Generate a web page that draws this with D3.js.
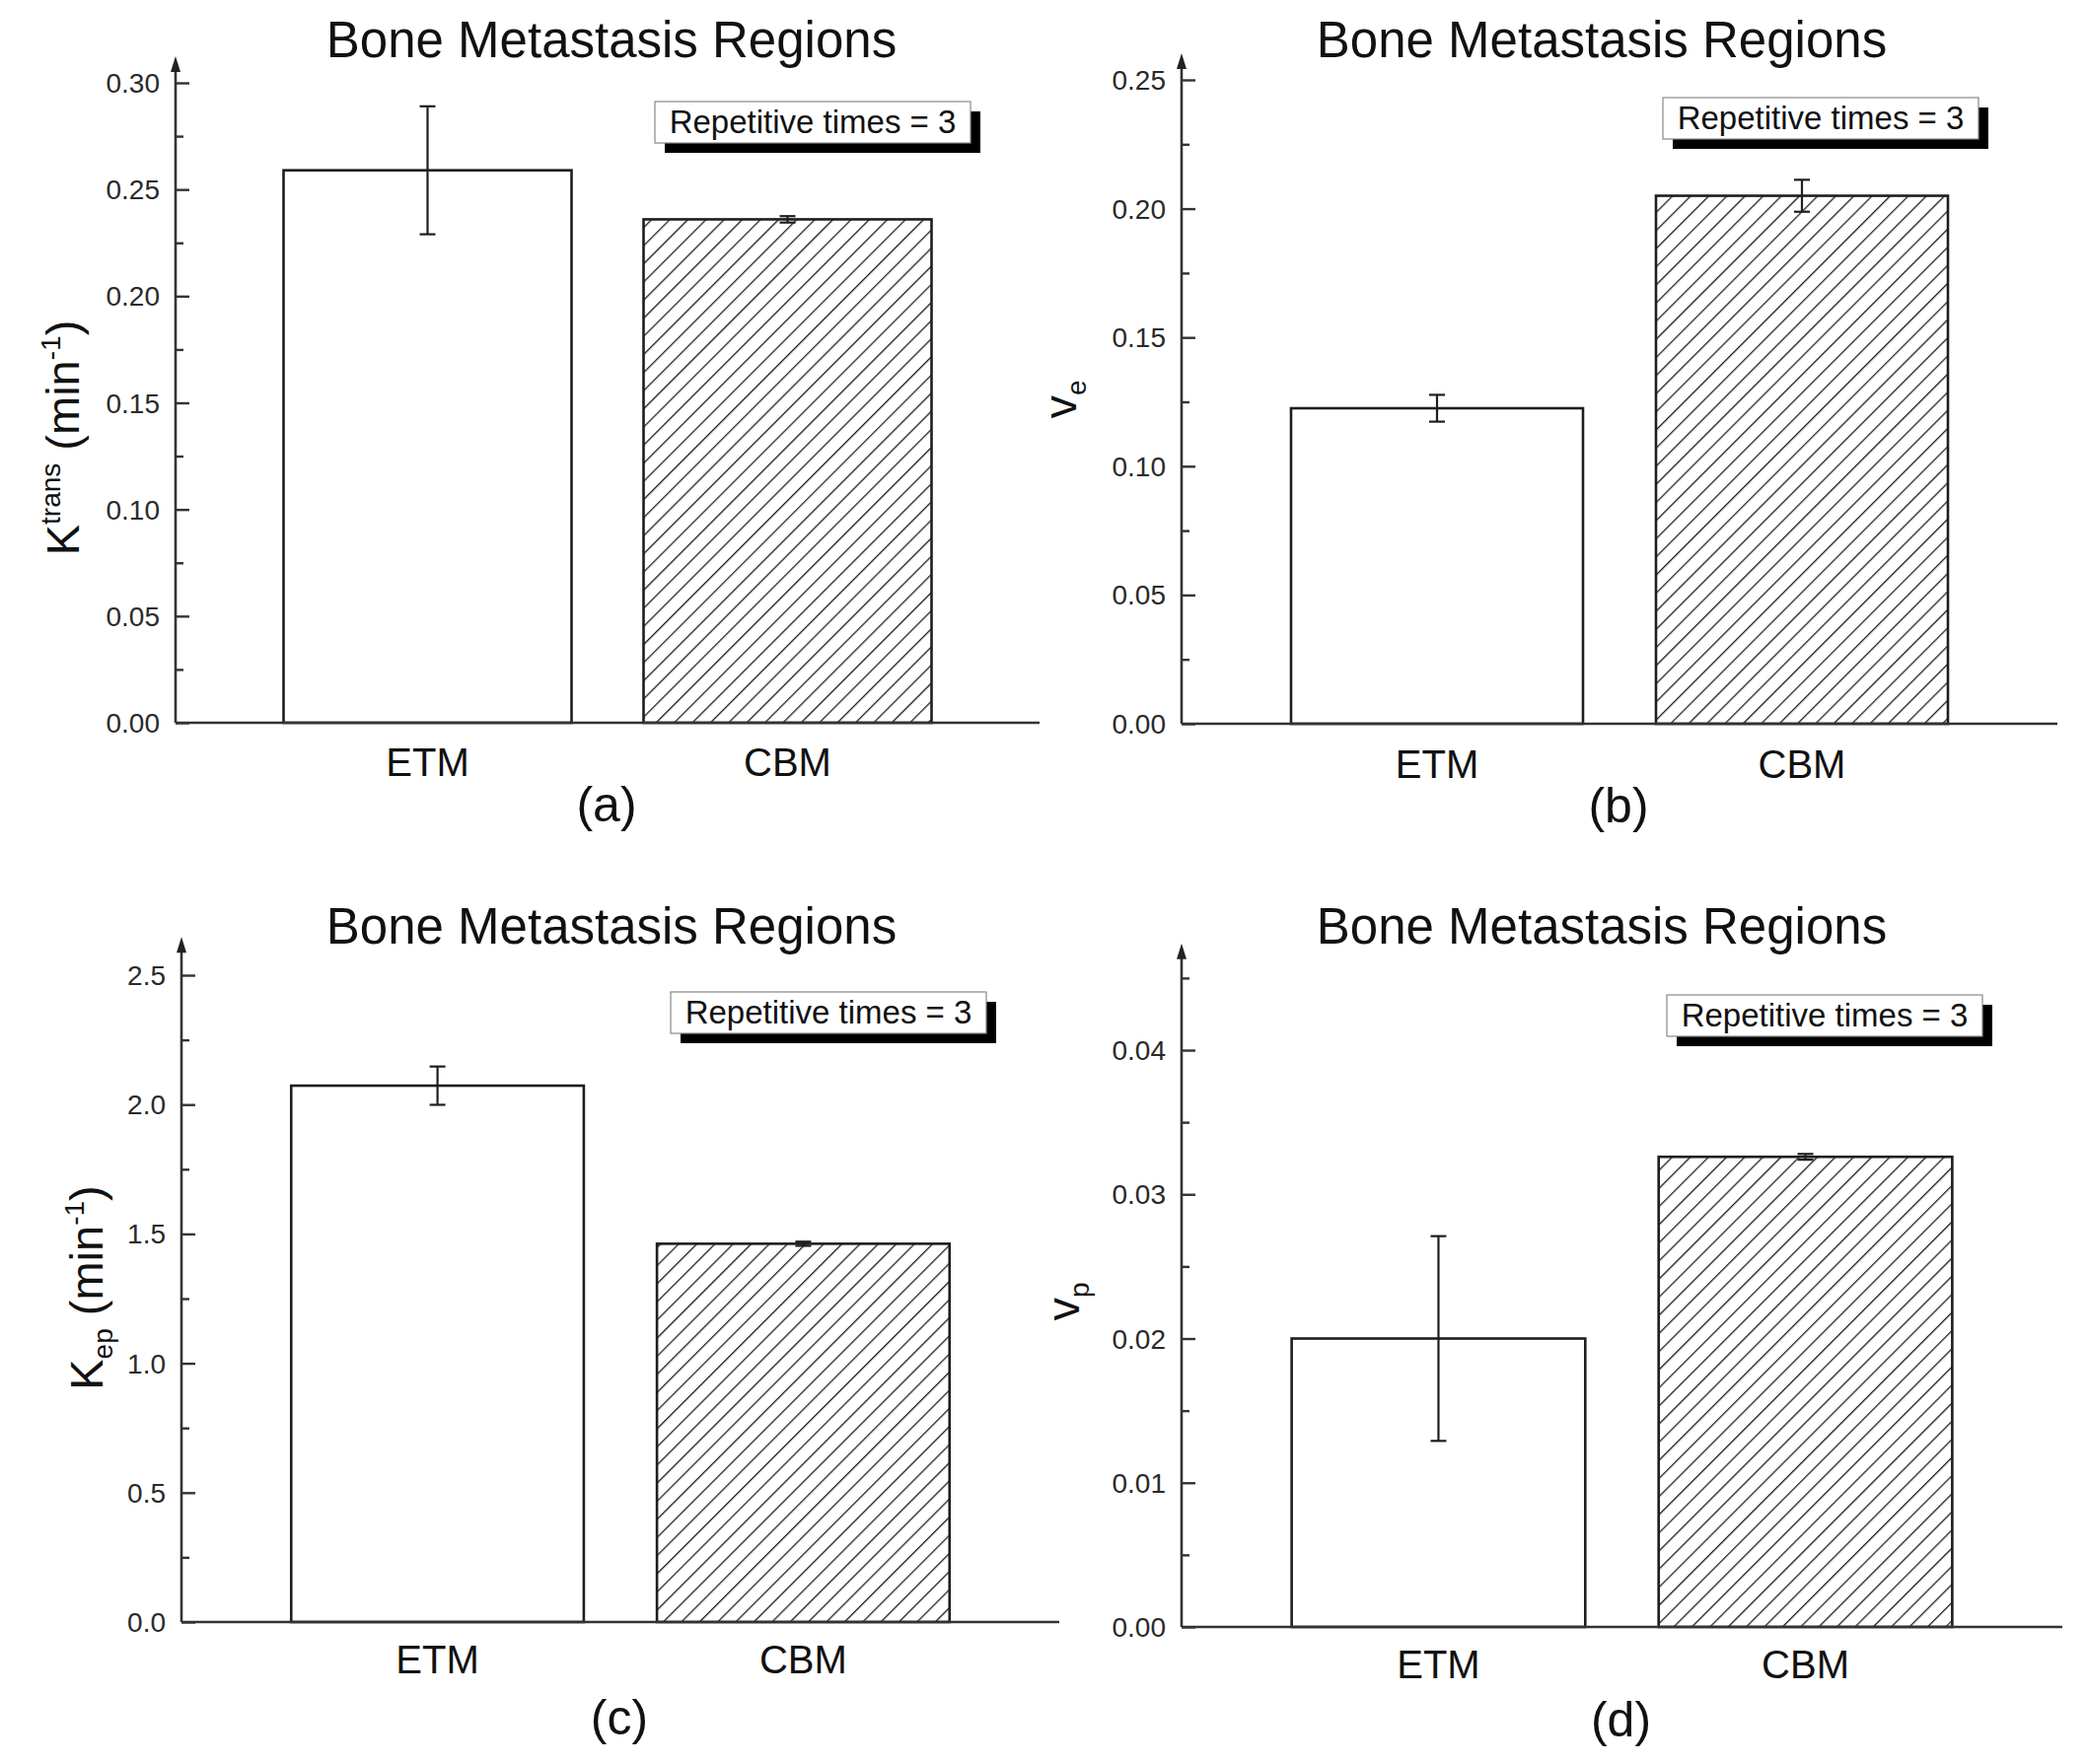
<!DOCTYPE html>
<html>
<head>
<meta charset="utf-8">
<script src="https://cdn.jsdelivr.net/npm/d3@7"></script>
<style>
  html, body { margin: 0; padding: 0; background: #fff; }
  svg { display: block; font-family: "Liberation Sans", Arial, Helvetica, sans-serif; }
</style>
</head>
<body>
<svg id="chart" width="2115" height="1789"></svg>
<script>
// ---------------- DATA ----------------
const categories = ["ETM", "CBM"];

const ktransMean = [0.259, 0.236];
const ktransErr  = [0.030, 0.0015];

const veMean = [0.1225, 0.2050];
const veErr  = [0.0052, 0.0062];

const kepMean = [2.073, 1.462];
const kepErr  = [0.074, 0.008];

const vpMean = [0.0200, 0.0326];
const vpErr  = [0.0071, 0.0002];

const ktransTicks = [0.00, 0.05, 0.10, 0.15, 0.20, 0.25, 0.30];
const veTicks     = [0.00, 0.05, 0.10, 0.15, 0.20, 0.25];
const kepTicks    = [0.0, 0.5, 1.0, 1.5, 2.0, 2.5];
const vpTicks     = [0.00, 0.01, 0.02, 0.03, 0.04];

const titleText  = "Bone Metastasis Regions";
const legendText = "Repetitive times = 3";
const panelTags  = ["(a)", "(b)", "(c)", "(d)"];

// ---------------- LAYOUT ----------------
const panels = [
  { means: ktransMean, errs: ktransErr, ticks: ktransTicks, fmt: ".2f", minor: 0.025, max: 0.3125,
    axisX: 178, axisEnd: 1054, y0: 733, topVal: 0.30, topPx: 84,
    titleX: 620, titleY: 58, legX: 664, legY: 103, ylabX: 80, ylabY: 444, catY: 787, tagY: 833,
    ylab: [{t: "K", s: 47}, {t: "trans", s: 28, dy: -19}, {t: " (min", s: 47, dy: 19}, {t: "-1", s: 28, dy: -19}, {t: ")", s: 47, dy: 19}] },
  { means: veMean, errs: veErr, ticks: veTicks, fmt: ".2f", minor: 0.025, max: 0.2603,
    axisX: 1198, axisEnd: 2086, y0: 734, topVal: 0.25, topPx: 81,
    titleX: 1624, titleY: 58, legX: 1686, legY: 99, ylabX: 1091, ylabY: 405, catY: 789, tagY: 834,
    ylab: [{t: "v", s: 47}, {t: "e", s: 28, dy: 10}] },
  { means: kepMean, errs: kepErr, ticks: kepTicks, fmt: ".1f", minor: 0.25, max: 2.648,
    axisX: 184, axisEnd: 1074, y0: 1645, topVal: 2.5, topPx: 989,
    titleX: 620, titleY: 957, legX: 680, legY: 1006, ylabX: 104, ylabY: 1306, catY: 1697, tagY: 1759,
    ylab: [{t: "K", s: 47}, {t: "ep", s: 28, dy: 10}, {t: " (min", s: 47, dy: -10}, {t: "-1", s: 28, dy: -19}, {t: ")", s: 47, dy: 19}] },
  { means: vpMean, errs: vpErr, ticks: vpTicks, fmt: ".2f", minor: 0.005, max: 0.0474,
    axisX: 1198, axisEnd: 2091, y0: 1650, topVal: 0.04, topPx: 1065,
    titleX: 1624, titleY: 957, legX: 1690, legY: 1009, ylabX: 1094, ylabY: 1320, catY: 1702, tagY: 1761,
    ylab: [{t: "v", s: 47}, {t: "p", s: 28, dy: 10}] }
];

const svg = d3.select("#chart");
svg.append("rect").attr("width", 2115).attr("height", 1789).attr("fill", "#fff");

// hatch pattern
const defs = svg.append("defs");
const hs = 13;
const pat = defs.append("pattern")
  .attr("id", "hatch").attr("patternUnits", "userSpaceOnUse")
  .attr("width", hs).attr("height", hs)
  .attr("patternTransform", "rotate(45)");
pat.append("rect").attr("width", hs).attr("height", hs).attr("fill", "#fff");
pat.append("line").attr("x1", 0).attr("y1", 0).attr("x2", 0).attr("y2", hs)
  .attr("stroke", "#1a1a1a").attr("stroke-width", 2.6);

const ink = "#1e1e1e";

panels.forEach((p, i) => {
  const g = svg.append("g");
  const x = d3.scaleBand().domain(categories).range([p.axisX, p.axisEnd])
    .paddingInner(0.2).paddingOuter(0.3);
  const y = d3.scaleLinear().domain([0, p.topVal]).range([p.y0, p.topPx]);

  // bars
  g.selectAll("rect.bar").data(categories).join("rect")
    .attr("class", "bar")
    .attr("x", d => x(d))
    .attr("width", x.bandwidth())
    .attr("y", (d, k) => y(p.means[k]))
    .attr("height", (d, k) => y(0) - y(p.means[k]))
    .attr("fill", (d, k) => k === 0 ? "#fff" : "url(#hatch)")
    .attr("stroke", ink).attr("stroke-width", 2.6);

  // error bars
  const eb = g.selectAll("g.err").data(categories).join("g").attr("class", "err");
  const cx = d => x(d) + x.bandwidth() / 2;
  eb.append("line")
    .attr("x1", cx).attr("x2", cx)
    .attr("y1", (d, k) => y(p.means[k] + p.errs[k]))
    .attr("y2", (d, k) => y(p.means[k] - p.errs[k]))
    .attr("stroke", ink).attr("stroke-width", 2.2);
  [1, -1].forEach(sg => {
    eb.append("line")
      .attr("x1", d => cx(d) - 8).attr("x2", d => cx(d) + 8)
      .attr("y1", (d, k) => y(p.means[k] + sg * p.errs[k]))
      .attr("y2", (d, k) => y(p.means[k] + sg * p.errs[k]))
      .attr("stroke", ink).attr("stroke-width", 2.2);
  });

  // y axis (major ticks inward)
  const yAxis = d3.axisRight(y).tickValues(p.ticks).tickSize(14).tickFormat("");
  const ya = g.append("g").attr("transform", `translate(${p.axisX},0)`).call(yAxis);
  ya.select(".domain").remove();
  ya.selectAll(".tick line").attr("stroke", "#333").attr("stroke-width", 2.4);

  // minor ticks
  const nMinor = Math.floor(p.max / p.minor + 1e-9);
  const minorVals = d3.range(0, nMinor + 1).map(k => k * p.minor)
    .filter(v => !p.ticks.some(t => Math.abs(t - v) < 1e-9));
  const yMinor = d3.axisRight(y).tickValues(minorVals).tickSize(8).tickFormat("");
  const ym = g.append("g").attr("transform", `translate(${p.axisX},0)`).call(yMinor);
  ym.select(".domain").remove();
  ym.selectAll(".tick line").attr("stroke", "#333").attr("stroke-width", 2.4);

  // tick labels
  const fmt = d3.format(p.fmt);
  g.selectAll("text.tl").data(p.ticks).join("text")
    .attr("class", "tl")
    .attr("x", p.axisX - 16)
    .attr("y", d => y(d) + 10)
    .attr("text-anchor", "end")
    .attr("font-size", 28)
    .attr("fill", "#2a2a2a")
    .text(d => fmt(d));

  // axis lines
  const topY = y(p.max);
  g.append("line").attr("x1", p.axisX).attr("x2", p.axisX)
    .attr("y1", y(0)).attr("y2", topY + 10)
    .attr("stroke", "#333").attr("stroke-width", 2.6);
  g.append("path")
    .attr("d", `M${p.axisX - 5},${topY + 16} L${p.axisX},${topY} L${p.axisX + 5},${topY + 16} Z`)
    .attr("fill", "#222");
  g.append("line").attr("x1", p.axisX).attr("x2", p.axisEnd)
    .attr("y1", y(0)).attr("y2", y(0))
    .attr("stroke", "#333").attr("stroke-width", 2.6);

  // category labels
  g.selectAll("text.cat").data(categories).join("text")
    .attr("class", "cat")
    .attr("x", d => cx(d))
    .attr("y", p.catY)
    .attr("text-anchor", "middle")
    .attr("font-size", 40)
    .attr("fill", "#111")
    .text(d => d);

  // panel tag
  g.append("text")
    .attr("x", (p.axisX + p.axisEnd) / 2 - 1)
    .attr("y", p.tagY)
    .attr("text-anchor", "middle")
    .attr("font-size", 50)
    .attr("fill", "#111")
    .text(panelTags[i]);

  // title
  g.append("text")
    .attr("x", p.titleX).attr("y", p.titleY)
    .attr("text-anchor", "middle")
    .attr("font-size", 51)
    .attr("fill", "#111")
    .text(titleText);

  // legend box with shadow
  const lw = 320, lh = 42;
  g.append("rect").attr("x", p.legX + 10).attr("y", p.legY + 10)
    .attr("width", lw).attr("height", lh).attr("fill", "#000");
  g.append("rect").attr("x", p.legX).attr("y", p.legY)
    .attr("width", lw).attr("height", lh).attr("fill", "#fff")
    .attr("stroke", "#888").attr("stroke-width", 1.2);
  g.append("text")
    .attr("x", p.legX + lw / 2).attr("y", p.legY + 32)
    .attr("text-anchor", "middle")
    .attr("font-size", 33)
    .attr("fill", "#111")
    .text(legendText);

  // y-axis label
  const yl = g.append("text")
    .attr("transform", `translate(${p.ylabX},${p.ylabY}) rotate(-90)`)
    .attr("text-anchor", "middle")
    .attr("fill", "#111");
  p.ylab.forEach(seg => {
    const ts = yl.append("tspan").attr("font-size", seg.s).text(seg.t);
    if (seg.dy) ts.attr("dy", seg.dy);
  });
});
</script>
</body>
</html>
